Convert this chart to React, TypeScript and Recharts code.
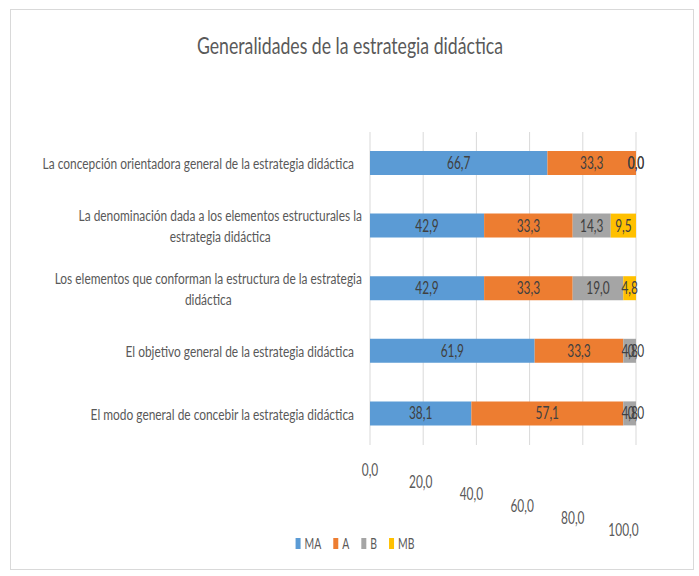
import React from 'react';
import { BarChart, Bar, XAxis, YAxis, CartesianGrid, Legend, LabelList } from 'recharts';

const categories = [
  'La concepción orientadora general de la estrategia didáctica',
  'La denominación dada a los elementos estructurales la estrategia didáctica',
  'Los elementos que conforman la estructura de la estrategia didáctica',
  'El objetivo general de la estrategia didáctica',
  'El modo general de concebir la estrategia didáctica',
];
const maValues = [66.7, 42.9, 42.9, 61.9, 38.1];
const aValues = [33.3, 33.3, 33.3, 33.3, 57.1];
const bValues = [0.0, 14.3, 19.0, 4.8, 4.8];
const mbValues = [0.0, 9.5, 4.8, 0.0, 0.0];
const xTicks = [0, 20, 40, 60, 80, 100];

const series = [
  { key: 'MA', color: '#5B9BD5' },
  { key: 'A', color: '#ED7D31' },
  { key: 'B', color: '#A5A5A5' },
  { key: 'MB', color: '#FFC000' },
];

const data = categories.map((name, i) => ({
  name,
  MA: maValues[i],
  A: aValues[i],
  B: bValues[i],
  MB: mbValues[i],
}));

const FONT = "Lato, 'Open Sans', sans-serif";
const TEXT = '#595959';
const CAT_SIZE = 16;
const CAT_SX = 0.745;
const VAL_SIZE = 17;
const VAL_SX = 0.7;

let ctx: CanvasRenderingContext2D | null = null;
const measure = (s: string, size: number, sx: number) => {
  if (!ctx) ctx = document.createElement('canvas').getContext('2d');
  if (!ctx) return s.length * size * 0.5 * sx;
  ctx.font = `${size}px ${FONT}`;
  return ctx.measureText(s).width * sx;
};

function wrap(text: string, maxW: number) {
  const words = text.split(' ');
  const lines: string[] = [];
  let cur = '';
  words.forEach((w) => {
    const next = cur ? cur + ' ' + w : w;
    if (measure(next, CAT_SIZE, CAT_SX) > maxW && cur) {
      lines.push(cur);
      cur = w;
    } else cur = next;
  });
  if (cur) lines.push(cur);
  return lines;
}

const fmt = (v: any) => Number(v).toFixed(1).replace('.', ',');

// text squeezed horizontally like the narrow Calibri of the original
const Narrow = ({ x, y, sx, size, anchor = 'middle', fill = TEXT, children }: any) => (
  <text
    transform={`translate(${x} ${y}) scale(${sx} 1)`}
    textAnchor={anchor}
    style={{ fontFamily: FONT, fontSize: size, fill }}
  >
    {children}
  </text>
);

const CategoryTick = (props: any) => {
  const { x, y, payload } = props;
  const lines = wrap(payload.value, 328);
  if (lines.length === 1) {
    return (
      <Narrow x={x - 8} y={y + 6} sx={CAT_SX} size={CAT_SIZE} anchor="end">
        {lines[0]}
      </Narrow>
    );
  }
  const w = Math.max(...lines.map((l) => measure(l, CAT_SIZE, CAT_SX)));
  const cx = x - w / 2;
  return (
    <g>
      {lines.map((l, i) => (
        <Narrow key={i} x={cx} y={y + 6 + (i - (lines.length - 1) / 2) * 21} sx={CAT_SX} size={CAT_SIZE}>
          {l}
        </Narrow>
      ))}
    </g>
  );
};

const ValueTick = (props: any) => {
  const { x, y, payload, index } = props;
  return (
    <Narrow x={x - index * 2.5} y={y + 23 + index * 12} sx={VAL_SX} size={VAL_SIZE}>
      {fmt(payload.value)}
    </Narrow>
  );
};

const makeLabel = (key: string) => (props: any) => {
  const { x, y, width, height, value, index } = props;
  const cy = Number(y) + Number(height) / 2 + 6;
  const nodes: React.ReactNode[] = [];
  if (Number(value) !== 0) {
    nodes.push(
      <Narrow key="v" x={Number(x) + Number(width) / 2} y={cy} sx={VAL_SX} size={VAL_SIZE} fill="#404040">
        {fmt(value)}
      </Narrow>
    );
  }
  // zero segments have no rectangle, so the first series places their labels
  if (key === 'MA' && Number(value) > 0) {
    const row: any = data[index];
    const perUnit = Number(width) / Number(value);
    let cum = 0;
    series.forEach((s) => {
      const v = Number(row[s.key]);
      cum += v;
      if (v === 0) {
        nodes.push(
          <Narrow key={s.key} x={Number(x) + cum * perUnit} y={cy} sx={VAL_SX} size={VAL_SIZE} fill="#404040">
            {fmt(0)}
          </Narrow>
        );
      }
    });
  }
  return <g>{nodes}</g>;
};

const LegendContent = () => {
  const items = series.map((s) => ({ ...s, w: measure(s.key, 16, 0.65) }));
  const total = items.reduce((a, it) => a + 5 + 4 + it.w, 0) + (items.length - 1) * 12;
  let cx = 355 - total / 2;
  return (
    <svg width={699} height={20} style={{ display: 'block' }}>
      {items.map((it) => {
        const x0 = cx;
        cx += 5 + 4 + it.w + 12;
        return (
          <g key={it.key}>
            <rect x={x0} y={4} width={5} height={11} fill={it.color} />
            <Narrow x={x0 + 9} y={15} sx={0.65} size={16} anchor="start">
              {it.key}
            </Narrow>
          </g>
        );
      })}
    </svg>
  );
};

export default function App() {
  return (
    <div style={{ position: 'absolute', left: 0, top: 0, width: 699, height: 576, background: '#fff' }}>
      <div
        style={{
          position: 'absolute',
          left: 10,
          top: 9,
          width: 684,
          height: 561,
          border: '1px solid #d9d9d9',
          boxSizing: 'border-box',
        }}
      />
      <svg width={699} height={90} style={{ position: 'absolute', left: 0, top: 0 }}>
        <text
          x={350}
          y={54}
          textAnchor="middle"
          textLength={306}
          lengthAdjust="spacingAndGlyphs"
          style={{ fontFamily: FONT, fontSize: 23, fill: TEXT }}
        >
          Generalidades de la estrategia didáctica
        </text>
      </svg>
      <div style={{ position: 'absolute', left: 0, top: 0 }}>
        <BarChart
          width={699}
          height={576}
          data={data}
          layout="vertical"
          margin={{ top: 132, right: 63, bottom: 51, left: 0 }}
          barSize={24}
        >
          <CartesianGrid horizontal={false} stroke="#d9d9d9" />
          <XAxis
            type="number"
            domain={[0, 100]}
            ticks={xTicks}
            axisLine={false}
            tickLine={false}
            tick={<ValueTick />}
            height={60}
            interval={0}
          />
          <YAxis
            type="category"
            dataKey="name"
            width={370}
            axisLine={false}
            tickLine={false}
            tick={<CategoryTick />}
            interval={0}
          />
          <Legend
            verticalAlign="bottom"
            content={<LegendContent />}
            wrapperStyle={{ left: 0, width: 699, top: 534, bottom: 'auto' }}
          />
          {series.map((s) => (
            <Bar key={s.key} dataKey={s.key} stackId="a" fill={s.color} isAnimationActive={false}>
              <LabelList dataKey={s.key} content={makeLabel(s.key)} />
            </Bar>
          ))}
        </BarChart>
      </div>
    </div>
  );
}
